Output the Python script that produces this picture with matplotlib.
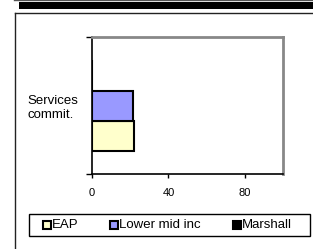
import matplotlib
matplotlib.use("Agg")
import matplotlib.pyplot as plt
from matplotlib.patches import Rectangle
from matplotlib.lines import Line2D
import numpy as np

plt.rcParams['font.family'] = ['Liberation Sans', 'DejaVu Sans']

categories = ["Services\ncommit."]
series_names = ["EAP", "Lower mid inc", "Marshall"]
series_values = [[22.0], [21.5], [0.0]]
series_colors = ["#FFFFCC", "#9999FF", "#000000"]
xticks = [0, 40, 80]

W, H = 313, 249
fig = plt.figure(figsize=(W / 100, H / 100), dpi=100)

def fx(px):
    return px / W

def fy(py):
    return 1 - py / H

# decorative frame
fig.add_artist(Line2D([fx(14), 1], [fy(0.5), fy(0.5)], color="#555555", lw=1.0, transform=fig.transFigure))
fig.add_artist(Rectangle((fx(19), fy(9)), 1 - fx(19), fy(2) - fy(9), facecolor="black", edgecolor="none", transform=fig.transFigure))
fig.add_artist(Line2D([fx(14.5), 1], [fy(13.5), fy(13.5)], color="#222222", lw=1.0, transform=fig.transFigure))
fig.add_artist(Line2D([fx(14.5), fx(14.5)], [0, fy(13.5)], color="#222222", lw=1.0, transform=fig.transFigure))

# axes
ax = fig.add_axes([fx(92), fy(174), fx(283) - fx(92), fy(37) - fy(174)])
ax.set_xlim(0, 100)
ax.set_ylim(-0.5, 0.5)

bar_h = 30 / 137
offsets = [-bar_h, 0.0, bar_h]
y = np.arange(len(categories))
for vals, col, off in zip(series_values, series_colors, offsets):
    ax.barh(y + off, vals, height=bar_h, color=col, edgecolor="black", linewidth=1.5, zorder=3)

ax.set_xticks(xticks)
ax.set_xticklabels([str(t) for t in xticks], fontsize=8)
ax.tick_params(axis="x", direction="out", length=3, width=1, pad=7, colors="black")

ax.set_yticks([-0.5, 0.5])
ax.set_yticklabels(["", ""])
ax.tick_params(axis="y", which="major", direction="out", length=4, width=1)
ax.set_yticks(y, minor=True)
ax.set_yticklabels(categories, minor=True, fontsize=9.5)
ax.tick_params(axis="y", which="minor", length=0, pad=10)
for lbl in ax.get_yticklabels(minor=True):
    lbl.set_multialignment("left")

ax.spines["left"].set_color("black")
ax.spines["bottom"].set_color("black")
ax.spines["left"].set_linewidth(1.2)
ax.spines["bottom"].set_linewidth(1.2)
for s in ["top", "right"]:
    ax.spines[s].set_color("#888888")
    ax.spines[s].set_linewidth(2)

# legend (manual)
fig.add_artist(Rectangle((fx(28.5), fy(236)), fx(310) - fx(28.5), fy(214) - fy(236),
                         facecolor="white", edgecolor="black", lw=1.0, transform=fig.transFigure))
leg_x = [43, 110, 233]
for name, col, lx in zip(series_names, series_colors, leg_x):
    fig.add_artist(Rectangle((fx(lx), fy(229)), fx(8), fy(221) - fy(229),
                             facecolor=col, edgecolor="black", lw=1.5, transform=fig.transFigure))
    fig.text(fx(lx + 9), fy(225), name, fontsize=9.5, ha="left", va="center")

fig.savefig("out.png", dpi=100)
